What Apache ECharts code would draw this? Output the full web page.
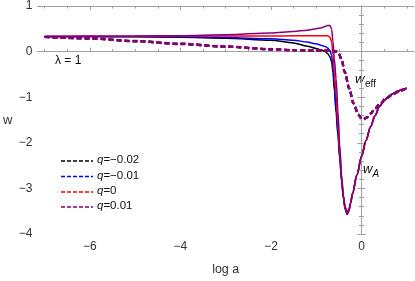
<!DOCTYPE html>
<html><head><meta charset="utf-8">
<script src="https://cdn.jsdelivr.net/npm/echarts@6.0.0/dist/echarts.min.js"></script>
<style>html,body{margin:0;padding:0;background:#fff}#c{width:415px;height:281px}</style>
</head><body><div id="c"></div>
<script>
// ---- data ----
const qLabels = ['q=−0.02', 'q=−0.01', 'q=0', 'q=0.01'];
const colors = ['#000000', '#0000ff', '#ff0000', '#800080'];
const xTickLabels = [-6, -4, -2, 0];
const yTickLabels = [1, 0, -1, -2, -3, -4];

// w_A (solid)
const logaA = [-7, -6, -5, -4, -3, -2, -1.5, -1.2, -1.0, -0.9, -0.8, -0.75, -0.7, -0.66, -0.63, -0.6, -0.56, -0.52, -0.48, -0.44, -0.4, -0.36, -0.32, -0.28, -0.24, -0.2, -0.1, 0, 0.1, 0.2, 0.3, 0.4, 0.5, 0.6, 0.7, 0.8, 0.9, 1.0];
const wA_qm002 = [0.33, 0.33, 0.325, 0.315, 0.295, 0.25, 0.19, 0.12, 0.07, 0.04, 0.0, -0.04, -0.11, -0.22, -0.45, -0.85, -1.35, -1.85, -2.35, -2.85, -3.22, -3.46, -3.57, -3.50, -3.32, -3.12, -2.7, -2.3, -1.95, -1.65, -1.4, -1.2, -1.07, -0.99, -0.92, -0.87, -0.83, -0.80];
const wA_qm001 = [0.33, 0.33, 0.33, 0.325, 0.31, 0.28, 0.25, 0.21, 0.17, 0.14, 0.11, 0.08, 0.03, -0.08, -0.35, -0.75, -1.25, -1.75, -2.3, -2.8, -3.2, -3.45, -3.56, -3.50, -3.32, -3.12, -2.7, -2.3, -1.95, -1.65, -1.4, -1.2, -1.07, -0.99, -0.92, -0.87, -0.83, -0.80];
const wA_q0 = [0.33, 0.335, 0.335, 0.34, 0.34, 0.34, 0.345, 0.35, 0.35, 0.35, 0.35, 0.345, 0.32, 0.22, -0.05, -0.45, -0.95, -1.6, -2.2, -2.75, -3.18, -3.43, -3.53, -3.49, -3.32, -3.12, -2.7, -2.3, -1.95, -1.65, -1.4, -1.2, -1.07, -0.99, -0.92, -0.87, -0.83, -0.80];
const wA_qp001 = [0.33, 0.335, 0.34, 0.35, 0.37, 0.41, 0.44, 0.47, 0.50, 0.52, 0.55, 0.575, 0.57, 0.50, 0.22, -0.15, -0.6, -1.3, -2.05, -2.7, -3.15, -3.40, -3.50, -3.47, -3.32, -3.12, -2.7, -2.3, -1.95, -1.65, -1.4, -1.2, -1.07, -0.99, -0.92, -0.87, -0.83, -0.80];

// w_eff (dashed)
const logaE = [-7, -6, -5, -4, -3, -2, -1.5, -1.0, -0.8, -0.65, -0.55, -0.5, -0.44, -0.37, -0.27, -0.18, -0.07, 0, 0.05, 0.11, 0.2, 0.3, 0.4, 0.55, 0.7, 0.85, 1.0];
const wE_qm002 = [0.32, 0.285, 0.225, 0.165, 0.105, 0.05, 0.03, 0.02, 0.02, 0.02, 0.0, -0.05, -0.17, -0.45, -0.81, -1.13, -1.38, -1.47, -1.48, -1.45, -1.36, -1.25, -1.15, -1.02, -0.93, -0.86, -0.80];
const wE_qm001 = [0.32, 0.29, 0.23, 0.17, 0.11, 0.05, 0.03, 0.02, 0.02, 0.02, 0.0, -0.05, -0.17, -0.45, -0.81, -1.13, -1.38, -1.47, -1.48, -1.45, -1.36, -1.25, -1.15, -1.02, -0.93, -0.86, -0.80];
const wE_q0 = [0.32, 0.29, 0.23, 0.17, 0.11, 0.05, 0.03, 0.02, 0.02, 0.02, 0.0, -0.05, -0.17, -0.45, -0.81, -1.13, -1.38, -1.47, -1.48, -1.45, -1.36, -1.25, -1.15, -1.02, -0.93, -0.86, -0.80];
const wE_qp001 = [0.32, 0.295, 0.235, 0.175, 0.115, 0.055, 0.035, 0.02, 0.02, 0.025, 0.0, -0.05, -0.17, -0.45, -0.81, -1.13, -1.38, -1.47, -1.48, -1.45, -1.36, -1.25, -1.15, -1.02, -0.93, -0.86, -0.80];

// ---- build ----
const zip = (xs, ys) => xs.map((x, i) => [x, ys[i]]);
const solid = [wA_qm002, wA_qm001, wA_q0, wA_qp001];
const dashed = [wE_qm002, wE_qm001, wE_q0, wE_qp001];
const XMIN = -7.16, XMAX = 1.16;
const minorX = [];
for (let v = -7; v <= 1.001; v += 0.5) { if (!xTickLabels.includes(v)) minorX.push(v); }
const frame = '#a0a0a0';
const font = 'Liberation Sans, Arial, sans-serif';
const minus = v => String(v).replace('-', '\u2212');

const series = [];
solid.forEach((ys, i) => series.push({
  type: 'line', data: zip(logaA, ys), symbol: 'none', smooth: 0.3, smoothMonotone: 'x',
  lineStyle: { color: colors[i], width: 1.5 }, silent: true, z: 2 + i
}));
dashed.forEach((ys, i) => series.push({
  type: 'line', data: zip(logaE, ys), symbol: 'none', smooth: 0.3, smoothMonotone: 'x',
  lineStyle: { color: colors[i], width: 2.2, type: [5, 3] }, silent: true, z: 10 + i
}));

function xAx(pos, major, labels) {
  const vals = major ? xTickLabels : minorX;
  return {
    type: 'value', position: pos, min: XMIN, max: XMAX,
    axisLine: { show: major, lineStyle: { color: frame, width: 1 } },
    axisTick: { show: true, inside: true, length: major ? 4 : 2.5, customValues: vals, lineStyle: { color: frame } },
    axisLabel: { show: labels, customValues: vals, formatter: minus, color: '#333', fontSize: 12, fontFamily: font, margin: 7 },
    splitLine: { show: false },
    name: labels ? 'log a' : '', nameLocation: 'middle', nameGap: 29,
    nameTextStyle: { color: '#333', fontSize: 12.5, fontFamily: font }
  };
}
function yAx(pos, labels) {
  return {
    type: 'value', position: pos, min: -4, max: 1, interval: 1,
    axisLine: { show: true, lineStyle: { color: frame, width: 1 } },
    axisTick: { show: true, inside: true, length: 4, lineStyle: { color: frame } },
    minorTick: { show: true, splitNumber: 5, length: 2.5, lineStyle: { color: frame } },
    axisLabel: { show: labels, formatter: minus, color: '#333', fontSize: 12, fontFamily: font, margin: 5 },
    splitLine: { show: false },
    name: labels ? 'w' : '', nameLocation: 'middle', nameGap: 25, nameRotate: 0,
    nameTextStyle: { color: '#333', fontSize: 13, fontFamily: font }
  };
}

const graphic = [
  { type: 'text', left: 55, top: 55, style: { text: 'λ = 1', font: '12px ' + font, fill: '#111' } },
  { type: 'text', left: 355, top: 73, style: { text: 'w', font: 'italic 13px ' + font, fill: '#111' } },
  { type: 'text', left: 365, top: 79, style: { text: 'eff', font: '10px ' + font, fill: '#111' } },
  { type: 'text', left: 363, top: 163, style: { text: 'w', font: 'italic 13px ' + font, fill: '#111' } },
  { type: 'text', left: 372.5, top: 169, style: { text: 'A', font: 'italic 10px ' + font, fill: '#111' } }
];
const rowY = [161, 176.5, 192, 207];
qLabels.forEach((lab, i) => {
  graphic.push({ type: 'line', shape: { x1: 61, y1: rowY[i], x2: 93, y2: rowY[i] },
    style: { stroke: colors[i], lineWidth: 1.6, lineDash: [4, 2] } });
  graphic.push({ type: 'text', left: 97, top: rowY[i] - 7,
    style: { text: '{i|q}' + lab.slice(1), rich: { i: { font: 'italic 11.5px ' + font, fill: '#111' } }, font: '11.5px ' + font, fill: '#111' } });
});

const chart = echarts.init(document.getElementById('c'));
chart.setOption({
  animation: false,
  backgroundColor: '#fff',
  grid: { left: 37, top: 5, width: 377, height: 234.5, containLabel: false },
  xAxis: [xAx('bottom', true, true), xAx('bottom', false, false), xAx('top', true, false), xAx('top', false, false)],
  yAxis: [yAx('left', true), yAx('right', false)],
  series: series,
  graphic: graphic
});
</script></body></html>
